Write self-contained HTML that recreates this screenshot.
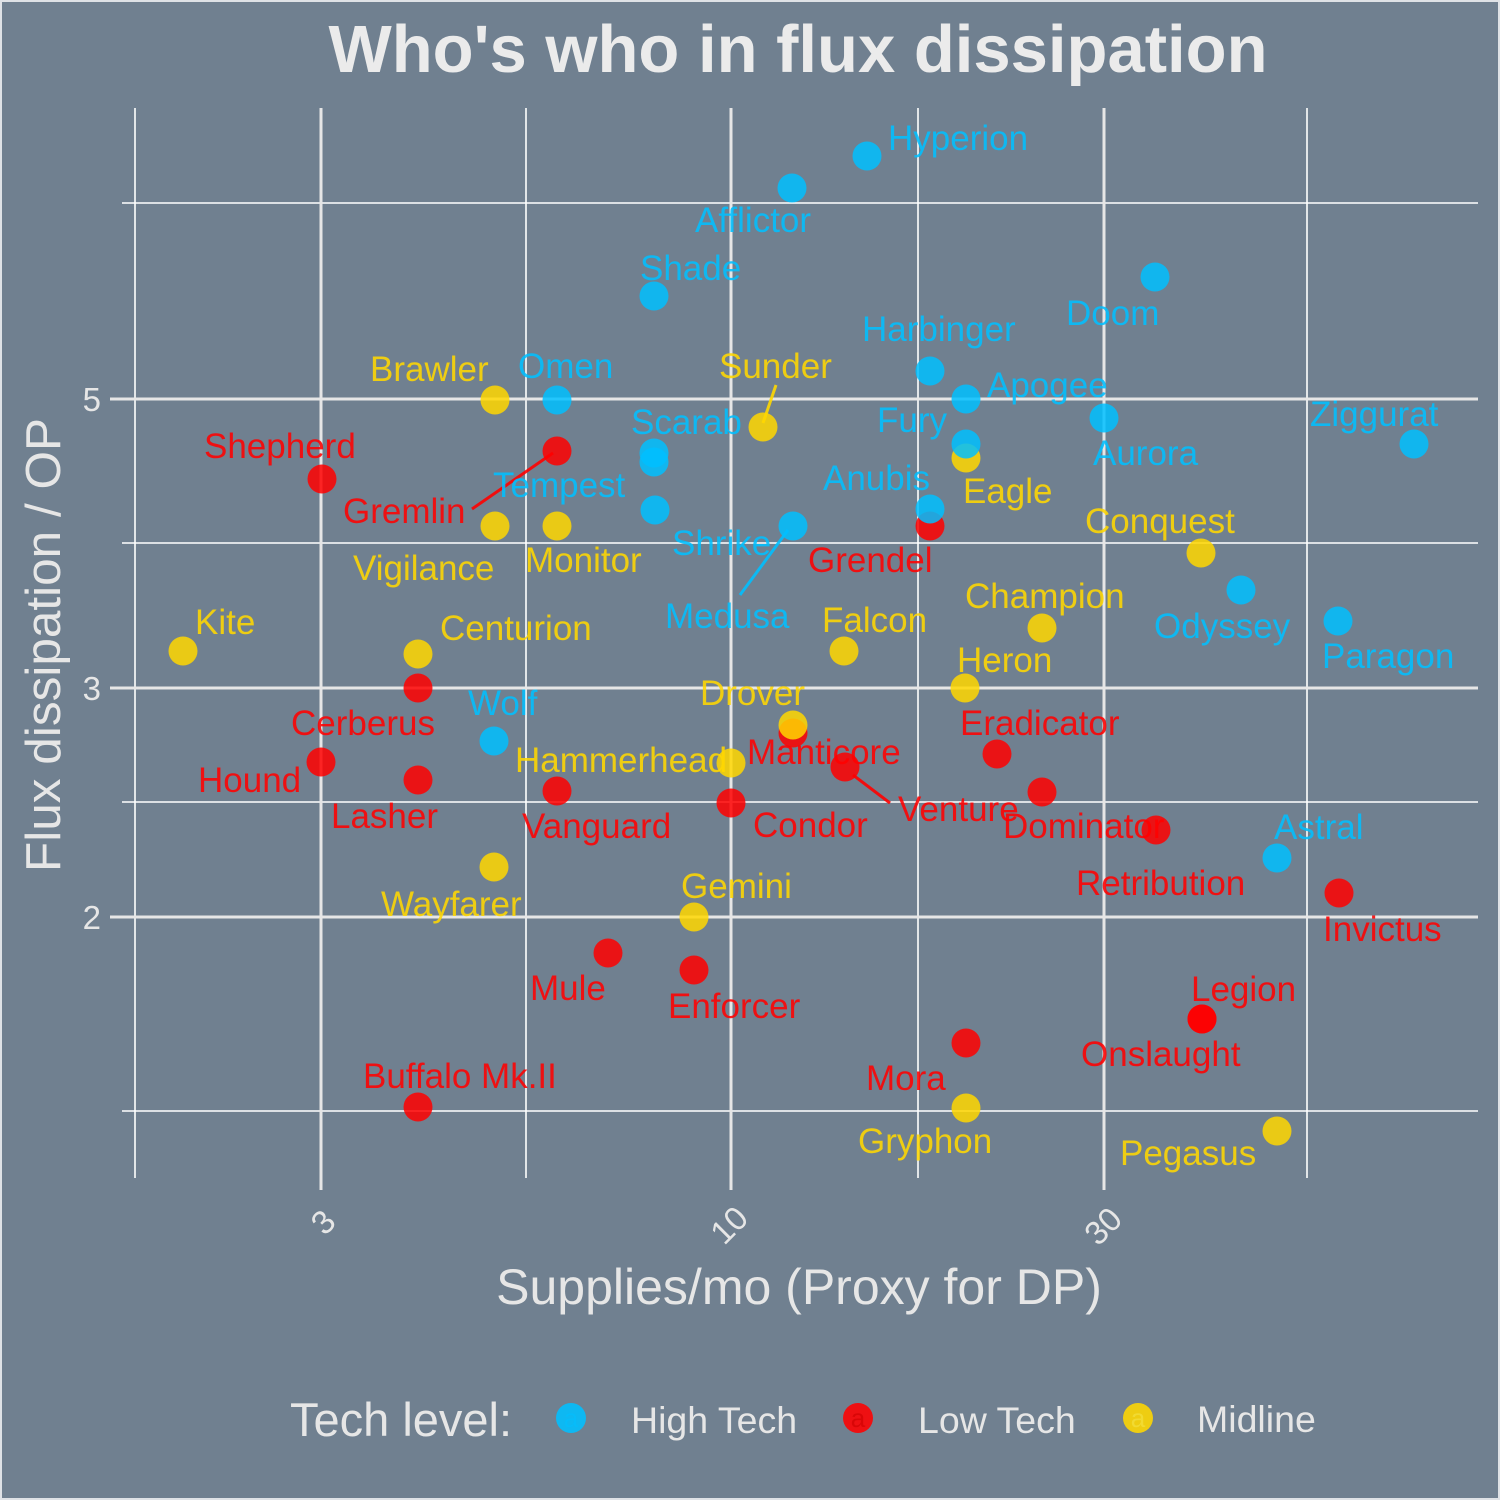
<!DOCTYPE html>
<html>
<head>
<meta charset="utf-8">
<style>
html,body{margin:0;padding:0;background:#708090;}
svg{display:block;}
text{font-family:"Liberation Sans",Arial,sans-serif;}
.hb{fill:#00BFFF;fill-opacity:0.88;}
.lr{fill:#FF0000;fill-opacity:0.88;}
.gd{fill:#FFD700;fill-opacity:0.88;}
.lab{font-size:35px;}
</style>
</head>
<body>
<svg width="1500" height="1500" viewBox="0 0 1500 1500" xmlns="http://www.w3.org/2000/svg">
<rect x="0" y="0" width="1500" height="1500" fill="#708090"/>
<rect x="1" y="1" width="1498" height="1498" fill="none" stroke="#dfe2e6" stroke-width="2"/>

<!-- title -->
<text x="798" y="72" text-anchor="middle" font-size="67" font-weight="bold" fill="#ebebeb">Who's who in flux dissipation</text>

<!-- minor gridlines -->
<g stroke="#ffffff" stroke-width="1.6">
<line x1="135" y1="108" x2="135" y2="1178"/>
<line x1="526" y1="108" x2="526" y2="1178"/>
<line x1="918" y1="108" x2="918" y2="1178"/>
<line x1="1307" y1="108" x2="1307" y2="1178"/>
<line x1="122" y1="203" x2="1478" y2="203"/>
<line x1="122" y1="543" x2="1478" y2="543"/>
<line x1="122" y1="802" x2="1478" y2="802"/>
<line x1="122" y1="1111" x2="1478" y2="1111"/>
</g>
<!-- major gridlines + ticks -->
<g stroke="#e6e6e6" stroke-width="3">
<line x1="321" y1="108" x2="321" y2="1190"/>
<line x1="731" y1="108" x2="731" y2="1190"/>
<line x1="1104" y1="108" x2="1104" y2="1190"/>
<line x1="110" y1="399" x2="1478" y2="399"/>
<line x1="110" y1="688" x2="1478" y2="688"/>
<line x1="110" y1="917" x2="1478" y2="917"/>
</g>

<!-- tick labels -->
<g fill="#e6e6e6" font-size="33">
<text x="101" y="411" text-anchor="end">5</text>
<text x="101" y="700" text-anchor="end">3</text>
<text x="101" y="929" text-anchor="end">2</text>
<text transform="translate(323,1222) rotate(-45)" text-anchor="middle" dominant-baseline="central">3</text>
<text transform="translate(729,1225) rotate(-45)" text-anchor="middle" dominant-baseline="central">10</text>
<text transform="translate(1103,1226) rotate(-45)" text-anchor="middle" dominant-baseline="central">30</text>
</g>

<!-- axis titles -->
<text x="799" y="1304" text-anchor="middle" font-size="50" fill="#e6e6e6">Supplies/mo (Proxy for DP)</text>
<text transform="translate(60,645) rotate(-90)" text-anchor="middle" font-size="49.5" fill="#e6e6e6">Flux dissipation / OP</text>

<!-- segments -->
<g stroke-width="3" stroke-opacity="0.9">
<line x1="553" y1="453" x2="472" y2="509" stroke="#FF0000"/>
<line x1="776" y1="385" x2="763" y2="423" stroke="#FFD700"/>
<line x1="788" y1="530" x2="740" y2="595" stroke="#00BFFF"/>
<line x1="853" y1="775" x2="890" y2="803" stroke="#FF0000"/>
</g>

<!-- labels -->
<g class="lab">
<g class="hb">
<text x="888" y="150">Hyperion</text>
<text x="695" y="232">Afflictor</text>
<text x="640" y="280">Shade</text>
<text x="1066" y="325">Doom</text>
<text x="862" y="341">Harbinger</text>
<text x="518" y="378">Omen</text>
<text x="987" y="397">Apogee</text>
<text x="631" y="434">Scarab</text>
<text x="877" y="432">Fury</text>
<text x="1093" y="465">Aurora</text>
<text x="1310" y="426">Ziggurat</text>
<text x="493" y="497">Tempest</text>
<text x="823" y="490">Anubis</text>
<text x="672" y="555">Shrike</text>
<text x="665" y="628">Medusa</text>
<text x="1154" y="638">Odyssey</text>
<text x="1322" y="668">Paragon</text>
<text x="468" y="715">Wolf</text>
<text x="1274" y="839">Astral</text>
</g>
<g class="lr">
<text x="204" y="458">Shepherd</text>
<text x="343" y="523">Gremlin</text>
<text x="808" y="572">Grendel</text>
<text x="291" y="735">Cerberus</text>
<text x="198" y="792">Hound</text>
<text x="331" y="828">Lasher</text>
<text x="522" y="838">Vanguard</text>
<text x="753" y="837">Condor</text>
<text x="747" y="764">Manticore</text>
<text x="898" y="821">Venture</text>
<text x="960" y="735">Eradicator</text>
<text x="1003" y="838">Dominator</text>
<text x="1076" y="895">Retribution</text>
<text x="1323" y="941">Invictus</text>
<text x="530" y="1000">Mule</text>
<text x="668" y="1018">Enforcer</text>
<text x="1191" y="1001">Legion</text>
<text x="1081" y="1066">Onslaught</text>
<text x="866" y="1090">Mora</text>
<text x="363" y="1088">Buffalo Mk.II</text>
</g>
<g class="gd">
<text x="370" y="381">Brawler</text>
<text x="719" y="378">Sunder</text>
<text x="353" y="580">Vigilance</text>
<text x="525" y="572">Monitor</text>
<text x="195" y="634">Kite</text>
<text x="440" y="640">Centurion</text>
<text x="963" y="503">Eagle</text>
<text x="1085" y="533">Conquest</text>
<text x="965" y="608">Champion</text>
<text x="822" y="632">Falcon</text>
<text x="957" y="672">Heron</text>
<text x="700" y="705">Drover</text>
<text x="515" y="772">Hammerhead</text>
<text x="381" y="916">Wayfarer</text>
<text x="681" y="898">Gemini</text>
<text x="858" y="1153">Gryphon</text>
<text x="1120" y="1165">Pegasus</text>
</g>
</g>

<!-- points: red -->
<g fill="#FF0000" fill-opacity="0.85">
<circle cx="322" cy="479" r="14.5"/>
<circle cx="557" cy="451" r="14.5"/>
<circle cx="930" cy="526" r="14.5"/>
<circle cx="418" cy="688" r="14.5"/>
<circle cx="321" cy="762" r="14.5"/>
<circle cx="418" cy="780" r="14.5"/>
<circle cx="557" cy="791" r="14.5"/>
<circle cx="731" cy="803" r="14.5"/>
<circle cx="793" cy="733" r="14.5"/>
<circle cx="845" cy="767" r="14.5"/>
<circle cx="997" cy="754" r="14.5"/>
<circle cx="1042" cy="792" r="14.5"/>
<circle cx="1156" cy="830" r="14.5"/>
<circle cx="1339" cy="893" r="14.5"/>
<circle cx="608" cy="953" r="14.5"/>
<circle cx="694" cy="970" r="14.5"/>
<circle cx="1202" cy="1019" r="14.5"/>
<circle cx="1202" cy="1019" r="14.5"/>
<circle cx="966" cy="1043" r="14.5"/>
<circle cx="418" cy="1107" r="14.5"/>
</g>
<!-- points: gold -->
<g fill="#FFD700" fill-opacity="0.85">
<circle cx="495" cy="400" r="14.5"/>
<circle cx="763" cy="427" r="14.5"/>
<circle cx="495" cy="526" r="14.5"/>
<circle cx="557" cy="526" r="14.5"/>
<circle cx="183" cy="651" r="14.5"/>
<circle cx="418" cy="654" r="14.5"/>
<circle cx="966" cy="458" r="14.5"/>
<circle cx="1201" cy="553" r="14.5"/>
<circle cx="1042" cy="628" r="14.5"/>
<circle cx="844" cy="651" r="14.5"/>
<circle cx="965" cy="688" r="14.5"/>
<circle cx="793" cy="725" r="14.5"/>
<circle cx="731" cy="763" r="14.5"/>
<circle cx="494" cy="867" r="14.5"/>
<circle cx="694" cy="917" r="14.5"/>
<circle cx="966" cy="1108" r="14.5"/>
<circle cx="1277" cy="1131" r="14.5"/>
</g>
<!-- points: blue -->
<g fill="#00BFFF" fill-opacity="0.85">
<circle cx="867" cy="156" r="14.5"/>
<circle cx="792" cy="188" r="14.5"/>
<circle cx="654" cy="296" r="14.5"/>
<circle cx="1155" cy="277" r="14.5"/>
<circle cx="930" cy="371" r="14.5"/>
<circle cx="557" cy="400" r="14.5"/>
<circle cx="966" cy="399" r="14.5"/>
<circle cx="1104" cy="418" r="14.5"/>
<circle cx="1414" cy="444" r="14.5"/>
<circle cx="654" cy="453" r="14.5"/>
<circle cx="654" cy="462" r="14.5"/>
<circle cx="655" cy="510" r="14.5"/>
<circle cx="966" cy="444" r="14.5"/>
<circle cx="930" cy="509" r="14.5"/>
<circle cx="793" cy="526" r="14.5"/>
<circle cx="1241" cy="590" r="14.5"/>
<circle cx="1338" cy="621" r="14.5"/>
<circle cx="494" cy="741" r="14.5"/>
<circle cx="1277" cy="858" r="14.5"/>
</g>

<!-- legend -->
<text x="290" y="1436" font-size="47" fill="#e6e6e6">Tech level:</text>
<circle cx="571" cy="1418" r="15" fill="#00BFFF" fill-opacity="0.88"/>
<text x="571" y="1427" text-anchor="middle" font-size="26" fill="#00BFFF" fill-opacity="0.5">a</text>
<text x="631" y="1433" font-size="37.5" fill="#e6e6e6">High Tech</text>
<circle cx="858" cy="1418" r="15" fill="#FF0000" fill-opacity="0.88"/>
<text x="858" y="1427" text-anchor="middle" font-size="26" fill="#cc0000" fill-opacity="0.6">a</text>
<text x="918" y="1433" font-size="37.5" fill="#e6e6e6">Low Tech</text>
<circle cx="1138" cy="1418" r="15" fill="#FFD700" fill-opacity="0.88"/>
<text x="1138" y="1427" text-anchor="middle" font-size="26" fill="#f2e040" fill-opacity="0.7">a</text>
<text x="1197" y="1432" font-size="37.5" fill="#e6e6e6">Midline</text>
</svg>
</body>
</html>
